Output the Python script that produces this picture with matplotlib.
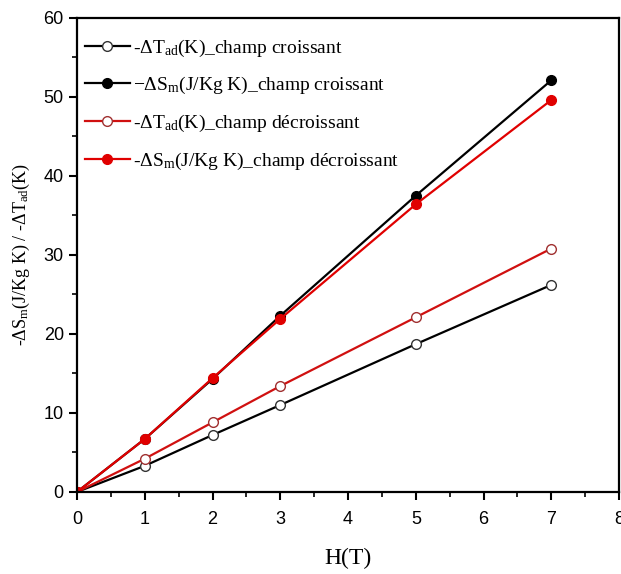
import numpy as np
import matplotlib; matplotlib.use("Agg")
import matplotlib.pyplot as plt
from matplotlib.ticker import MultipleLocator

plt.rcParams.update({"mathtext.fontset": "custom", "mathtext.rm": "Liberation Serif",
                     "mathtext.it": "Liberation Serif:italic"})

H = [0, 1, 2, 3, 5, 7]
dT_up = [0, 3.3, 7.2, 11.0, 18.7, 26.2]
dS_up = [0, 6.7, 14.3, 22.3, 37.5, 52.1]
dT_down = [0, 4.2, 8.8, 13.4, 22.1, 30.8]
dS_down = [0, 6.7, 14.4, 21.9, 36.4, 49.6]
labels = [r"-$\Delta$T$_{\rm ad}$(K)_champ croissant",
          r"$-\Delta$S$_{\rm m}$(J/Kg K)_champ croissant",
          r"-$\Delta$T$_{\rm ad}$(K)_champ décroissant",
          r"-$\Delta$S$_{\rm m}$(J/Kg K)_champ décroissant"]

serif = "Liberation Serif"
sans = "Liberation Sans"

fig = plt.figure(figsize=(6.21, 5.74), dpi=100)
ax = fig.add_axes([0.124, 0.143, 0.873, 0.826])

kw = dict(lw=1.6, ms=7)
ax.plot(H, dT_up, "-o", color="black", mfc="white", mec="#333333", label=labels[0], **kw)
ax.plot(H, dS_up, "-o", color="black", mfc="black", mec="black", label=labels[1], **kw)
ax.plot(H, dT_down, "-o", color="#d01010", mfc="white", mec="#a03030", label=labels[2], **kw)
ax.plot(H, dS_down, "-o", color="#e00000", mfc="#e00000", mec="#e00000", label=labels[3], **kw)

ax.set_xlim(0, 8)
ax.set_ylim(0, 60)
ax.xaxis.set_major_locator(MultipleLocator(1))
ax.xaxis.set_minor_locator(MultipleLocator(0.5))
ax.yaxis.set_major_locator(MultipleLocator(10))
ax.yaxis.set_minor_locator(MultipleLocator(5))
ax.tick_params(which="major", direction="out", length=6, width=1.5, labelsize=13)
ax.tick_params(which="minor", direction="out", length=3.5, width=1.2)
ax.tick_params(axis="x", which="major", pad=8)
ax.tick_params(axis="y", which="major", pad=3.5)
for lab in ax.get_xticklabels() + ax.get_yticklabels():
    lab.set_family(sans)
for s in ax.spines.values():
    s.set_linewidth(1.6)

ax.set_xlabel("H(T)", fontsize=17, family=serif, labelpad=14)
ax.set_ylabel(r"-$\Delta$S$_{\rm m}$(J/Kg K) / -$\Delta$T$_{\rm ad}$(K)", fontsize=13,
              family=serif, labelpad=8)

leg = ax.legend(loc="upper left", frameon=False, prop={"family": serif, "size": 14},
                handlelength=2.3, handletextpad=0.2, labelspacing=0.85,
                borderaxespad=0.0, bbox_to_anchor=(0.0, 0.975))

fig.savefig("out.png", dpi=100)
